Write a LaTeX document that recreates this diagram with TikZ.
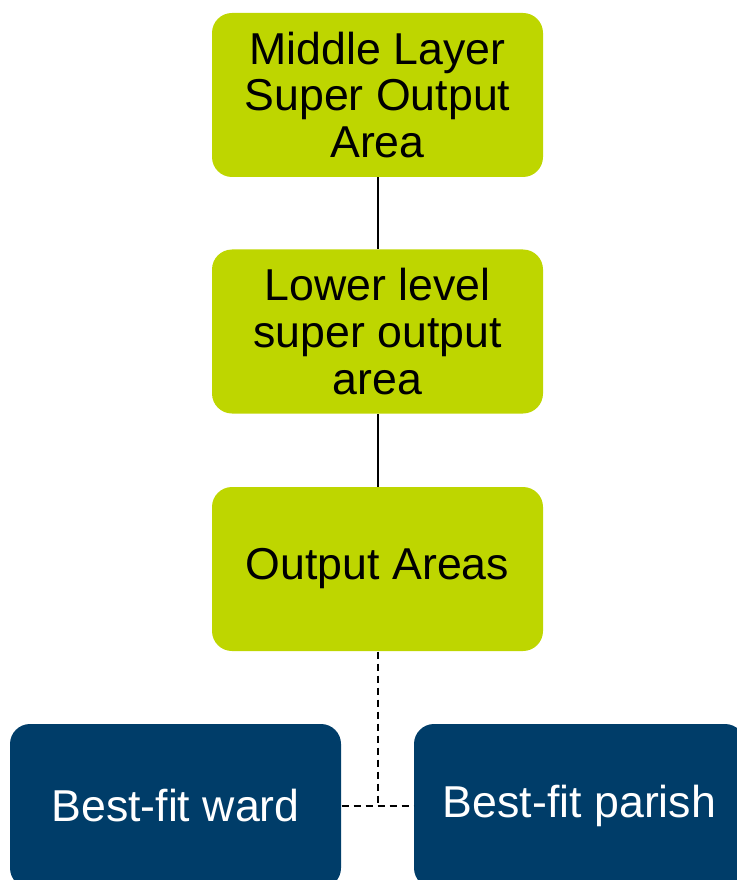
\documentclass[tikz,border=0pt]{standalone}
\usepackage{fontspec}
\setmainfont{Liberation Sans}
\definecolor{areagreen}{RGB}{190,214,0}
\definecolor{areablue}{RGB}{0,61,105}
\tikzset{every picture/.style={line width=0.75pt}}
\tikzset{
  areabox/.style={rounded corners=15pt, minimum width=248.25pt, minimum height=123pt,
    inner sep=0.75pt, align=center, font=\fontsize{33.5}{35}\selectfont},
  greenbox/.style={areabox, fill=areagreen, text=black},
  bluebox/.style={areabox, fill=areablue, text=white}
}

\begin{document}
\begin{tikzpicture}[x=0.75pt,y=0.75pt,yscale=-1,xscale=1]
	%set diagram size
	\path[use as bounding box] (0,0) rectangle (737,880);
	\clip (0,0) rectangle (737,880);
	
	%Green boxes
	\node [greenbox] (msoa) at (377.5,95) {Middle Layer\\Super Output\\Area};
	\node [greenbox] (lsoa) at (377.5,331.5) {Lower level\\super output\\area};
	\node [greenbox] (oa) at (377.5,569) {Output Areas};
	%Blue boxes
	\node [bluebox] (ward) at (175.5,806) {Best-fit ward};
	\node [bluebox] (parish) at (579.5,806) {Best-fit parish};
	\coordinate (join) at (oa.south |- ward.east);
	
	\draw [line width=1.5]    (msoa) -- (lsoa) ;
	\draw [line width=1.5]    (lsoa) -- (oa) ;
	\draw [line width=1.5, dash pattern=on 5.5 off 3.5]    (oa) -- (join) ;
	\draw [line width=1.5, dash pattern=on 5.5 off 3.5]    (ward) -- (parish) ;
	
\end{tikzpicture}
\end{document}
